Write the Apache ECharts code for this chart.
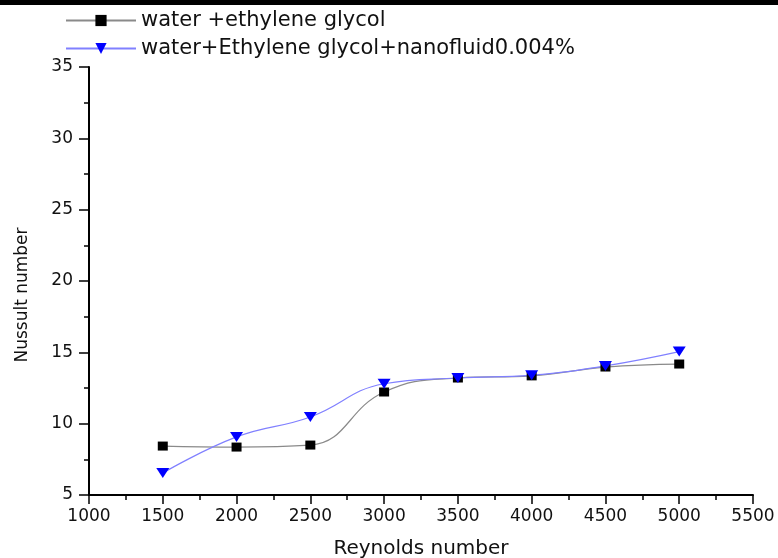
<!DOCTYPE html>
<html>
<head>
<meta charset="utf-8">
<script src="https://cdn.jsdelivr.net/npm/echarts@6/dist/echarts.min.js"></script>
<style>
  html, body { margin: 0; padding: 0; background: #fff; }
  #chart { width: 778px; height: 558px; }
</style>
</head>
<body>
<div id="chart"></div>
<script>
// Reynolds number
const reynolds = [1500, 2000, 2500, 3000, 3500, 4000, 4500, 5000];
// Nusselt number, water + ethylene glycol
const baseFluid = [8.43, 8.36, 8.5, 12.22, 13.2, 13.35, 13.97, 14.18];
// Nusselt number, with nanofluid 0.004%
const nanoFluid = [6.54, 9.07, 10.47, 12.8, 13.2, 13.4, 14.05, 15.05];

const chart = echarts.init(document.getElementById('chart'));

const font = 'DejaVu Sans, Liberation Sans, sans-serif';

const option = {
  animation: false,
  backgroundColor: '#fff',
  graphic: [
    // black band along the top edge
    { type: 'rect', shape: { x: 0, y: 0, width: 778, height: 5 }, style: { fill: '#000' } }
  ],
  legend: {
    orient: 'vertical',
    left: 60,
    top: 5,
    itemWidth: 70,
    itemHeight: 14,
    itemGap: 7,
    textStyle: { fontFamily: font, fontSize: 21, color: '#111' },
    data: ['water +ethylene glycol', 'water+Ethylene glycol+nanofluid0.004%']
  },
  grid: { left: 89, right: 25, top: 67, bottom: 63, outerBoundsMode: 'none' },
  xAxis: {
    type: 'value',
    min: 1000,
    max: 5500,
    interval: 500,
    name: 'Reynolds number',
    nameLocation: 'middle',
    nameGap: 44,
    nameTextStyle: { fontFamily: font, fontSize: 20, color: '#111' },
    axisLine: { lineStyle: { color: '#000', width: 2 } },
    axisTick: { show: true, length: 9, lineStyle: { color: '#000', width: 1.5 } },
    minorTick: { show: true, splitNumber: 2, length: 5, lineStyle: { color: '#000', width: 1.5 } },
    axisLabel: { fontFamily: font, fontSize: 17, color: '#111', margin: 13, formatter: v => String(v) },
    splitLine: { show: false }
  },
  yAxis: {
    type: 'value',
    min: 5,
    max: 35,
    interval: 5,
    name: 'Nussult number',
    nameLocation: 'middle',
    nameGap: 58,
    nameTextStyle: { fontFamily: font, fontSize: 17, color: '#111', padding: [0, 28, 0, 0] },
    axisLine: { show: true, lineStyle: { color: '#000', width: 2 } },
    axisTick: { show: true, length: 10, lineStyle: { color: '#000', width: 1.5 } },
    minorTick: { show: true, splitNumber: 2, length: 5, lineStyle: { color: '#000', width: 1.5 } },
    axisLabel: { fontFamily: font, fontSize: 17, color: '#111', margin: 16 },
    splitLine: { show: false }
  },
  series: [
    {
      name: 'water +ethylene glycol',
      type: 'line',
      smooth: 0.45,
      data: reynolds.map((x, i) => [x, baseFluid[i]]),
      symbol: 'rect',
      symbolSize: [10, 9],
      itemStyle: { color: '#000' },
      lineStyle: { color: '#8a8a8a', width: 1.2 }
    },
    {
      name: 'water+Ethylene glycol+nanofluid0.004%',
      type: 'line',
      smooth: 0.45,
      data: reynolds.map((x, i) => [x, nanoFluid[i]]),
      symbol: 'triangle',
      symbolRotate: 180,
      symbolSize: [13, 10],
      itemStyle: { color: '#0000ff' },
      lineStyle: { color: '#8080ff', width: 1.2 }
    }
  ]
};

chart.setOption(option);
</script>
</body>
</html>
